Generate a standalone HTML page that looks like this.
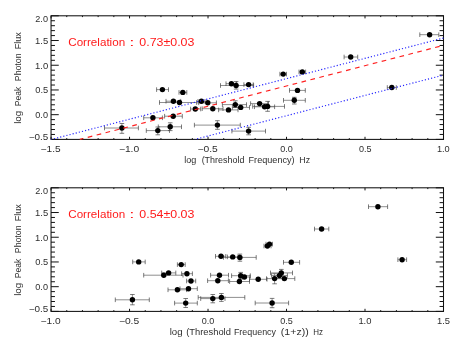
<!DOCTYPE html>
<html><head><meta charset="utf-8"><title>plot</title>
<style>
html,body{margin:0;padding:0;background:#fff;}
body{width:458px;height:344px;overflow:hidden;}
svg{display:block;}
text{font-family:"Liberation Sans",sans-serif;}
</style></head><body>
<svg width="458" height="344" viewBox="0 0 458 344">
<rect width="458" height="344" fill="#fff"/>
<defs><filter id="g" x="-5%" y="-5%" width="110%" height="110%"><feOffset dx="0" dy="0"/></filter></defs>
<g stroke="#111" fill="none">
<rect x="51.05" y="15.8" width="392.45" height="123.60" stroke-width="1.05"/>
<path stroke-width="1.0" d="M51.05 139.40v-2.6M51.05 15.80v2.6M66.75 139.40v-1.3M66.75 15.80v1.3M82.45 139.40v-1.3M82.45 15.80v1.3M98.14 139.40v-1.3M98.14 15.80v1.3M113.84 139.40v-1.3M113.84 15.80v1.3M129.54 139.40v-2.6M129.54 15.80v2.6M145.24 139.40v-1.3M145.24 15.80v1.3M160.94 139.40v-1.3M160.94 15.80v1.3M176.63 139.40v-1.3M176.63 15.80v1.3M192.33 139.40v-1.3M192.33 15.80v1.3M208.03 139.40v-2.6M208.03 15.80v2.6M223.73 139.40v-1.3M223.73 15.80v1.3M239.43 139.40v-1.3M239.43 15.80v1.3M255.12 139.40v-1.3M255.12 15.80v1.3M270.82 139.40v-1.3M270.82 15.80v1.3M286.52 139.40v-2.6M286.52 15.80v2.6M302.22 139.40v-1.3M302.22 15.80v1.3M317.92 139.40v-1.3M317.92 15.80v1.3M333.61 139.40v-1.3M333.61 15.80v1.3M349.31 139.40v-1.3M349.31 15.80v1.3M365.01 139.40v-2.6M365.01 15.80v2.6M380.71 139.40v-1.3M380.71 15.80v1.3M396.41 139.40v-1.3M396.41 15.80v1.3M412.10 139.40v-1.3M412.10 15.80v1.3M427.80 139.40v-1.3M427.80 15.80v1.3M443.50 139.40v-2.6M443.50 15.80v2.6M51.05 139.40h7.7M443.5 139.40h-7.7M51.05 134.46h3.9M443.5 134.46h-3.9M51.05 129.51h3.9M443.5 129.51h-3.9M51.05 124.57h3.9M443.5 124.57h-3.9M51.05 119.62h3.9M443.5 119.62h-3.9M51.05 114.68h7.7M443.5 114.68h-7.7M51.05 109.74h3.9M443.5 109.74h-3.9M51.05 104.79h3.9M443.5 104.79h-3.9M51.05 99.85h3.9M443.5 99.85h-3.9M51.05 94.90h3.9M443.5 94.90h-3.9M51.05 89.96h7.7M443.5 89.96h-7.7M51.05 85.02h3.9M443.5 85.02h-3.9M51.05 80.07h3.9M443.5 80.07h-3.9M51.05 75.13h3.9M443.5 75.13h-3.9M51.05 70.18h3.9M443.5 70.18h-3.9M51.05 65.24h7.7M443.5 65.24h-7.7M51.05 60.30h3.9M443.5 60.30h-3.9M51.05 55.35h3.9M443.5 55.35h-3.9M51.05 50.41h3.9M443.5 50.41h-3.9M51.05 45.46h3.9M443.5 45.46h-3.9M51.05 40.52h7.7M443.5 40.52h-7.7M51.05 35.58h3.9M443.5 35.58h-3.9M51.05 30.63h3.9M443.5 30.63h-3.9M51.05 25.69h3.9M443.5 25.69h-3.9M51.05 20.74h3.9M443.5 20.74h-3.9M51.05 15.80h7.7M443.5 15.80h-7.7"/>
</g>
<g filter="url(#g)">
<text x="28.70" y="139.70" font-size="8.7" fill="#2e2e2e" textLength="19.50" lengthAdjust="spacingAndGlyphs">−0.5</text>
<text x="35.30" y="117.98" font-size="8.7" fill="#2e2e2e" textLength="12.65" lengthAdjust="spacingAndGlyphs">0.0</text>
<text x="35.30" y="93.26" font-size="8.7" fill="#2e2e2e" textLength="12.90" lengthAdjust="spacingAndGlyphs">0.5</text>
<text x="35.05" y="68.54" font-size="8.7" fill="#2e2e2e" textLength="13.15" lengthAdjust="spacingAndGlyphs">1.0</text>
<text x="35.05" y="43.82" font-size="8.7" fill="#2e2e2e" textLength="13.15" lengthAdjust="spacingAndGlyphs">1.5</text>
<text x="35.30" y="22.00" font-size="8.7" fill="#2e2e2e" textLength="12.65" lengthAdjust="spacingAndGlyphs">2.0</text>
<text x="40.60" y="152.10" font-size="8.7" fill="#2e2e2e" textLength="20.00" lengthAdjust="spacingAndGlyphs">−1.5</text>
<text x="118.90" y="152.10" font-size="8.7" fill="#2e2e2e" textLength="20.25" lengthAdjust="spacingAndGlyphs">−1.0</text>
<text x="197.45" y="152.10" font-size="8.7" fill="#2e2e2e" textLength="20.25" lengthAdjust="spacingAndGlyphs">−0.5</text>
<text x="280.35" y="152.10" font-size="8.7" fill="#2e2e2e" textLength="12.55" lengthAdjust="spacingAndGlyphs">0.0</text>
<text x="358.90" y="152.10" font-size="8.7" fill="#2e2e2e" textLength="12.55" lengthAdjust="spacingAndGlyphs">0.5</text>
<text x="436.95" y="152.10" font-size="8.7" fill="#2e2e2e" textLength="12.80" lengthAdjust="spacingAndGlyphs">1.0</text>
<text transform="translate(20.90 123.85) rotate(-90)" font-size="9.0" fill="#2e2e2e" textLength="13.10" lengthAdjust="spacingAndGlyphs">log</text>
<text transform="translate(20.90 106.15) rotate(-90)" font-size="9.0" fill="#2e2e2e" textLength="19.55" lengthAdjust="spacingAndGlyphs">Peak</text>
<text transform="translate(20.90 81.15) rotate(-90)" font-size="9.0" fill="#2e2e2e" textLength="27.65" lengthAdjust="spacingAndGlyphs">Photon</text>
<text transform="translate(20.90 49.30) rotate(-90)" font-size="9.0" fill="#2e2e2e" textLength="17.05" lengthAdjust="spacingAndGlyphs">Flux</text>
<text x="184.15" y="163.10" font-size="9.0" fill="#2e2e2e" textLength="12.05" lengthAdjust="spacingAndGlyphs">log</text>
<text x="201.65" y="163.10" font-size="9.0" fill="#2e2e2e" textLength="42.75" lengthAdjust="spacingAndGlyphs">(Threshold</text>
<text x="248.55" y="163.10" font-size="9.0" fill="#2e2e2e" textLength="46.05" lengthAdjust="spacingAndGlyphs">Frequency)</text>
<text x="299.35" y="163.10" font-size="9.0" fill="#2e2e2e" textLength="10.75" lengthAdjust="spacingAndGlyphs">Hz</text>
<text x="68.25" y="46.00" font-size="11.4" fill="#ff1a1a" textLength="56.90" lengthAdjust="spacingAndGlyphs">Correlation</text>
<text x="129.15" y="46.00" font-size="11.4" fill="#ff1a1a" textLength="5.20" lengthAdjust="spacingAndGlyphs">:</text>
<text x="139.30" y="46.00" font-size="11.4" fill="#ff1a1a" textLength="55.10" lengthAdjust="spacingAndGlyphs">0.73±0.03</text>
</g>
<path d="M104.5 128.0H138.4M121.9 123.5V133.3M146.3 130.6H169.5M157.8 127.0V134.8M158.3 126.8H181.5M170.2 122.8V130.6M143.7 117.8H162.4M164.6 116.2H182.3M156.6 89.6H168.5M179.0 92.4H186.8M166.0 101.2H180.7M159.5 102.5H196.6M190.6 109.0H200.7M198.0 101.3H205.0M198.7 102.8H216.4M202.2 108.7H223.0M194.4 125.1H240.3M217.4 120.7V129.3M218.6 109.9H238.0M222.4 104.6H246.5M235.3 100.8V107.5M232.4 107.4H249.5M226.0 83.7H236.7M220.5 85.5H253.6M236.1 81.6V89.1M243.9 84.6H253.2M231.9 131.1H265.5M248.6 127.3V134.8M250.6 103.6H268.5M254.5 106.8H274.6M252.7 106.4H284.5M267.6 101.4V111.3M279.9 74.1H286.5M299.0 71.9H305.6M289.5 90.4H305.3M283.5 100.3H305.3M294.3 97.3V104.0M344.1 57.0H357.7M419.8 34.7H438.8M387.3 87.5H396.3" stroke="#6a6a6a" stroke-width="0.75" fill="none"/>
<path d="M104.5 125.7v4.6M138.4 125.7v4.6M119.6 123.5h4.6M119.6 133.3h4.6M146.3 128.3v4.6M169.5 128.3v4.6M155.5 127.0h4.6M155.5 134.8h4.6M158.3 124.5v4.6M181.5 124.5v4.6M167.9 122.8h4.6M167.9 130.6h4.6M143.7 115.5v4.6M162.4 115.5v4.6M164.6 113.9v4.6M182.3 113.9v4.6M156.6 87.3v4.6M168.5 87.3v4.6M179.0 90.1v4.6M186.8 90.1v4.6M166.0 98.9v4.6M180.7 98.9v4.6M159.5 100.2v4.6M196.6 100.2v4.6M190.6 106.7v4.6M200.7 106.7v4.6M198.0 99.0v4.6M205.0 99.0v4.6M198.7 100.5v4.6M216.4 100.5v4.6M202.2 106.4v4.6M223.0 106.4v4.6M194.4 122.8v4.6M240.3 122.8v4.6M215.1 120.7h4.6M215.1 129.3h4.6M218.6 107.6v4.6M238.0 107.6v4.6M222.4 102.3v4.6M246.5 102.3v4.6M233.0 100.8h4.6M233.0 107.5h4.6M232.4 105.1v4.6M249.5 105.1v4.6M226.0 81.4v4.6M236.7 81.4v4.6M220.5 83.2v4.6M253.6 83.2v4.6M233.8 81.6h4.6M233.8 89.1h4.6M243.9 82.3v4.6M253.2 82.3v4.6M231.9 128.8v4.6M265.5 128.8v4.6M246.3 127.3h4.6M246.3 134.8h4.6M250.6 101.3v4.6M268.5 101.3v4.6M254.5 104.5v4.6M274.6 104.5v4.6M252.7 104.1v4.6M284.5 104.1v4.6M265.3 101.4h4.6M265.3 111.3h4.6M279.9 71.8v4.6M286.5 71.8v4.6M299.0 69.6v4.6M305.6 69.6v4.6M289.5 88.1v4.6M305.3 88.1v4.6M283.5 98.0v4.6M305.3 98.0v4.6M292.0 97.3h4.6M292.0 104.0h4.6M344.1 54.7v4.6M357.7 54.7v4.6M419.8 32.4v4.6M438.8 32.4v4.6M387.3 85.2v4.6M396.3 85.2v4.6" stroke="#444" stroke-width="0.7" fill="none"/>
<g fill="#000"><circle cx="121.9" cy="128.0" r="2.7"/><circle cx="157.8" cy="130.6" r="2.7"/><circle cx="170.2" cy="126.8" r="2.7"/><circle cx="152.9" cy="117.8" r="2.7"/><circle cx="173.2" cy="116.2" r="2.7"/><circle cx="162.4" cy="89.6" r="2.7"/><circle cx="182.8" cy="92.4" r="2.7"/><circle cx="173.4" cy="101.2" r="2.7"/><circle cx="179.5" cy="102.5" r="2.7"/><circle cx="195.3" cy="109.0" r="2.7"/><circle cx="201.4" cy="101.3" r="2.7"/><circle cx="207.8" cy="102.8" r="2.7"/><circle cx="212.8" cy="108.7" r="2.7"/><circle cx="217.4" cy="125.1" r="2.7"/><circle cx="228.5" cy="109.9" r="2.7"/><circle cx="235.3" cy="104.6" r="2.7"/><circle cx="240.7" cy="107.4" r="2.7"/><circle cx="231.4" cy="83.7" r="2.7"/><circle cx="236.1" cy="85.5" r="2.7"/><circle cx="248.6" cy="84.6" r="2.7"/><circle cx="248.6" cy="131.1" r="2.7"/><circle cx="259.6" cy="103.6" r="2.7"/><circle cx="264.6" cy="106.8" r="2.7"/><circle cx="267.6" cy="106.4" r="2.7"/><circle cx="283.2" cy="74.1" r="2.7"/><circle cx="302.3" cy="71.9" r="2.7"/><circle cx="297.5" cy="90.4" r="2.7"/><circle cx="294.3" cy="100.3" r="2.7"/><circle cx="350.7" cy="57.0" r="2.7"/><circle cx="429.6" cy="34.7" r="2.7"/><circle cx="391.8" cy="87.5" r="2.7"/></g>
<line x1="51.4" y1="139.4" x2="443.5" y2="38.04" stroke="#1f1fff" stroke-width="1.15" stroke-dasharray="1.15 2.059" stroke-dashoffset="0.575"/>
<line x1="194.85" y1="139.4" x2="443.5" y2="75.12" stroke="#1f1fff" stroke-width="1.15" stroke-dasharray="1.15 2.072" stroke-dashoffset="0.9"/>
<line x1="79.8" y1="139.4" x2="443.5" y2="45.38" stroke="#ff2020" stroke-width="1.15" stroke-dasharray="4.7 4.5" stroke-dashoffset="1.0"/>
<g stroke="#111" fill="none">
<rect x="51.05" y="187.8" width="392.45" height="123.60" stroke-width="1.05"/>
<path stroke-width="1.0" d="M51.05 311.40v-2.6M51.05 187.80v2.6M66.75 311.40v-1.3M66.75 187.80v1.3M82.45 311.40v-1.3M82.45 187.80v1.3M98.14 311.40v-1.3M98.14 187.80v1.3M113.84 311.40v-1.3M113.84 187.80v1.3M129.54 311.40v-2.6M129.54 187.80v2.6M145.24 311.40v-1.3M145.24 187.80v1.3M160.94 311.40v-1.3M160.94 187.80v1.3M176.63 311.40v-1.3M176.63 187.80v1.3M192.33 311.40v-1.3M192.33 187.80v1.3M208.03 311.40v-2.6M208.03 187.80v2.6M223.73 311.40v-1.3M223.73 187.80v1.3M239.43 311.40v-1.3M239.43 187.80v1.3M255.12 311.40v-1.3M255.12 187.80v1.3M270.82 311.40v-1.3M270.82 187.80v1.3M286.52 311.40v-2.6M286.52 187.80v2.6M302.22 311.40v-1.3M302.22 187.80v1.3M317.92 311.40v-1.3M317.92 187.80v1.3M333.61 311.40v-1.3M333.61 187.80v1.3M349.31 311.40v-1.3M349.31 187.80v1.3M365.01 311.40v-2.6M365.01 187.80v2.6M380.71 311.40v-1.3M380.71 187.80v1.3M396.41 311.40v-1.3M396.41 187.80v1.3M412.10 311.40v-1.3M412.10 187.80v1.3M427.80 311.40v-1.3M427.80 187.80v1.3M443.50 311.40v-2.6M443.50 187.80v2.6M51.05 311.40h7.7M443.5 311.40h-7.7M51.05 306.46h3.9M443.5 306.46h-3.9M51.05 301.51h3.9M443.5 301.51h-3.9M51.05 296.57h3.9M443.5 296.57h-3.9M51.05 291.62h3.9M443.5 291.62h-3.9M51.05 286.68h7.7M443.5 286.68h-7.7M51.05 281.74h3.9M443.5 281.74h-3.9M51.05 276.79h3.9M443.5 276.79h-3.9M51.05 271.85h3.9M443.5 271.85h-3.9M51.05 266.90h3.9M443.5 266.90h-3.9M51.05 261.96h7.7M443.5 261.96h-7.7M51.05 257.02h3.9M443.5 257.02h-3.9M51.05 252.07h3.9M443.5 252.07h-3.9M51.05 247.13h3.9M443.5 247.13h-3.9M51.05 242.18h3.9M443.5 242.18h-3.9M51.05 237.24h7.7M443.5 237.24h-7.7M51.05 232.30h3.9M443.5 232.30h-3.9M51.05 227.35h3.9M443.5 227.35h-3.9M51.05 222.41h3.9M443.5 222.41h-3.9M51.05 217.46h3.9M443.5 217.46h-3.9M51.05 212.52h7.7M443.5 212.52h-7.7M51.05 207.58h3.9M443.5 207.58h-3.9M51.05 202.63h3.9M443.5 202.63h-3.9M51.05 197.69h3.9M443.5 197.69h-3.9M51.05 192.74h3.9M443.5 192.74h-3.9M51.05 187.80h7.7M443.5 187.80h-7.7"/>
</g>
<g filter="url(#g)">
<text x="28.70" y="311.70" font-size="8.7" fill="#2e2e2e" textLength="19.50" lengthAdjust="spacingAndGlyphs">−0.5</text>
<text x="35.30" y="289.98" font-size="8.7" fill="#2e2e2e" textLength="12.65" lengthAdjust="spacingAndGlyphs">0.0</text>
<text x="35.30" y="265.26" font-size="8.7" fill="#2e2e2e" textLength="12.90" lengthAdjust="spacingAndGlyphs">0.5</text>
<text x="35.05" y="240.54" font-size="8.7" fill="#2e2e2e" textLength="13.15" lengthAdjust="spacingAndGlyphs">1.0</text>
<text x="35.05" y="215.82" font-size="8.7" fill="#2e2e2e" textLength="13.15" lengthAdjust="spacingAndGlyphs">1.5</text>
<text x="35.30" y="194.00" font-size="8.7" fill="#2e2e2e" textLength="12.65" lengthAdjust="spacingAndGlyphs">2.0</text>
<text x="40.60" y="324.10" font-size="8.7" fill="#2e2e2e" textLength="20.00" lengthAdjust="spacingAndGlyphs">−1.0</text>
<text x="118.90" y="324.10" font-size="8.7" fill="#2e2e2e" textLength="20.25" lengthAdjust="spacingAndGlyphs">−0.5</text>
<text x="201.80" y="324.10" font-size="8.7" fill="#2e2e2e" textLength="12.55" lengthAdjust="spacingAndGlyphs">0.0</text>
<text x="280.35" y="324.10" font-size="8.7" fill="#2e2e2e" textLength="12.55" lengthAdjust="spacingAndGlyphs">0.5</text>
<text x="358.40" y="324.10" font-size="8.7" fill="#2e2e2e" textLength="13.05" lengthAdjust="spacingAndGlyphs">1.0</text>
<text x="436.95" y="324.10" font-size="8.7" fill="#2e2e2e" textLength="13.05" lengthAdjust="spacingAndGlyphs">1.5</text>
<text transform="translate(20.90 295.85) rotate(-90)" font-size="9.0" fill="#2e2e2e" textLength="13.10" lengthAdjust="spacingAndGlyphs">log</text>
<text transform="translate(20.90 278.15) rotate(-90)" font-size="9.0" fill="#2e2e2e" textLength="19.55" lengthAdjust="spacingAndGlyphs">Peak</text>
<text transform="translate(20.90 253.15) rotate(-90)" font-size="9.0" fill="#2e2e2e" textLength="27.65" lengthAdjust="spacingAndGlyphs">Photon</text>
<text transform="translate(20.90 221.30) rotate(-90)" font-size="9.0" fill="#2e2e2e" textLength="17.05" lengthAdjust="spacingAndGlyphs">Flux</text>
<text x="169.65" y="335.10" font-size="9.0" fill="#2e2e2e" textLength="12.90" lengthAdjust="spacingAndGlyphs">log</text>
<text x="186.25" y="335.10" font-size="9.0" fill="#2e2e2e" textLength="44.65" lengthAdjust="spacingAndGlyphs">(Threshold</text>
<text x="233.95" y="335.10" font-size="9.0" fill="#2e2e2e" textLength="42.05" lengthAdjust="spacingAndGlyphs">Frequency</text>
<text x="280.85" y="335.10" font-size="9.0" fill="#2e2e2e" textLength="27.90" lengthAdjust="spacingAndGlyphs">(1+z))</text>
<text x="313.35" y="335.10" font-size="9.0" fill="#2e2e2e" textLength="9.75" lengthAdjust="spacingAndGlyphs">Hz</text>
<text x="68.25" y="218.00" font-size="11.4" fill="#ff1a1a" textLength="56.90" lengthAdjust="spacingAndGlyphs">Correlation</text>
<text x="129.15" y="218.00" font-size="11.4" fill="#ff1a1a" textLength="5.20" lengthAdjust="spacingAndGlyphs">:</text>
<text x="139.30" y="218.00" font-size="11.4" fill="#ff1a1a" textLength="55.10" lengthAdjust="spacingAndGlyphs">0.54±0.03</text>
</g>
<path d="M115.3 299.8H149.3M132.4 294.5V304.8M132.7 261.9H145.2M143.7 275.2H183.0M161.7 272.9H175.8M177.4 264.6H185.2M168.0 289.8H186.6M181.6 273.7H192.4M174.6 303.1H197.3M185.7 298.5V307.5M186.6 281.0H195.7M180.0 288.7H197.3M215.5 256.3H225.8M227.4 256.9H238.0M210.6 275.2H228.5M207.6 280.7H228.4M200.7 298.6H225.0M212.8 294.5V302.8M198.2 297.4H244.8M221.4 293.5V301.4M223.5 257.4H256.2M239.9 254.1V261.2M264.0 246.0H271.0M266.0 244.1H272.5M231.6 275.7H250.3M240.7 272.4V279.0M239.0 277.0H250.0M229.6 281.5H249.5M249.5 279.3H267.0M266.5 278.6H283.0M274.6 273.7V283.8M271.5 275.5H287.4M270.5 272.9H292.5M281.3 269.4V276.6M274.0 278.6H294.8M283.5 262.3H299.6M255.2 303.0H288.6M272.1 298.4V307.7M314.5 229.0H328.8M368.5 206.7H387.6M397.9 259.7H406.6" stroke="#6a6a6a" stroke-width="0.75" fill="none"/>
<path d="M115.3 297.5v4.6M149.3 297.5v4.6M130.1 294.5h4.6M130.1 304.8h4.6M132.7 259.6v4.6M145.2 259.6v4.6M143.7 272.9v4.6M183.0 272.9v4.6M161.7 270.6v4.6M175.8 270.6v4.6M177.4 262.3v4.6M185.2 262.3v4.6M168.0 287.5v4.6M186.6 287.5v4.6M181.6 271.4v4.6M192.4 271.4v4.6M174.6 300.8v4.6M197.3 300.8v4.6M183.4 298.5h4.6M183.4 307.5h4.6M186.6 278.7v4.6M195.7 278.7v4.6M180.0 286.4v4.6M197.3 286.4v4.6M215.5 254.0v4.6M225.8 254.0v4.6M227.4 254.6v4.6M238.0 254.6v4.6M210.6 272.9v4.6M228.5 272.9v4.6M207.6 278.4v4.6M228.4 278.4v4.6M200.7 296.3v4.6M225.0 296.3v4.6M210.5 294.5h4.6M210.5 302.8h4.6M198.2 295.1v4.6M244.8 295.1v4.6M219.1 293.5h4.6M219.1 301.4h4.6M223.5 255.1v4.6M256.2 255.1v4.6M237.6 254.1h4.6M237.6 261.2h4.6M264.0 243.7v4.6M271.0 243.7v4.6M266.0 241.8v4.6M272.5 241.8v4.6M231.6 273.4v4.6M250.3 273.4v4.6M238.4 272.4h4.6M238.4 279.0h4.6M239.0 274.7v4.6M250.0 274.7v4.6M229.6 279.2v4.6M249.5 279.2v4.6M249.5 277.0v4.6M267.0 277.0v4.6M266.5 276.3v4.6M283.0 276.3v4.6M272.3 273.7h4.6M272.3 283.8h4.6M271.5 273.2v4.6M287.4 273.2v4.6M270.5 270.6v4.6M292.5 270.6v4.6M279.0 269.4h4.6M279.0 276.6h4.6M274.0 276.3v4.6M294.8 276.3v4.6M283.5 260.0v4.6M299.6 260.0v4.6M255.2 300.7v4.6M288.6 300.7v4.6M269.8 298.4h4.6M269.8 307.7h4.6M314.5 226.7v4.6M328.8 226.7v4.6M368.5 204.4v4.6M387.6 204.4v4.6M397.9 257.4v4.6M406.6 257.4v4.6" stroke="#444" stroke-width="0.7" fill="none"/>
<g fill="#000"><circle cx="132.4" cy="299.8" r="2.7"/><circle cx="138.7" cy="261.9" r="2.7"/><circle cx="163.8" cy="275.2" r="2.7"/><circle cx="168.6" cy="272.9" r="2.7"/><circle cx="181.2" cy="264.6" r="2.7"/><circle cx="177.4" cy="289.8" r="2.7"/><circle cx="186.9" cy="273.7" r="2.7"/><circle cx="185.7" cy="303.1" r="2.7"/><circle cx="191.0" cy="281.0" r="2.7"/><circle cx="188.5" cy="288.7" r="2.7"/><circle cx="221.0" cy="256.3" r="2.7"/><circle cx="232.7" cy="256.9" r="2.7"/><circle cx="219.5" cy="275.2" r="2.7"/><circle cx="217.8" cy="280.7" r="2.7"/><circle cx="212.8" cy="298.6" r="2.7"/><circle cx="221.4" cy="297.4" r="2.7"/><circle cx="239.9" cy="257.4" r="2.7"/><circle cx="267.4" cy="246.0" r="2.7"/><circle cx="269.5" cy="244.1" r="2.7"/><circle cx="240.7" cy="275.7" r="2.7"/><circle cx="244.4" cy="277.0" r="2.7"/><circle cx="239.4" cy="281.5" r="2.7"/><circle cx="258.2" cy="279.3" r="2.7"/><circle cx="274.6" cy="278.6" r="2.7"/><circle cx="279.4" cy="275.5" r="2.7"/><circle cx="281.3" cy="272.9" r="2.7"/><circle cx="284.4" cy="278.6" r="2.7"/><circle cx="291.3" cy="262.3" r="2.7"/><circle cx="272.1" cy="303.0" r="2.7"/><circle cx="321.6" cy="229.0" r="2.7"/><circle cx="377.9" cy="206.7" r="2.7"/><circle cx="402.1" cy="259.7" r="2.7"/></g>
</svg>
</body></html>
